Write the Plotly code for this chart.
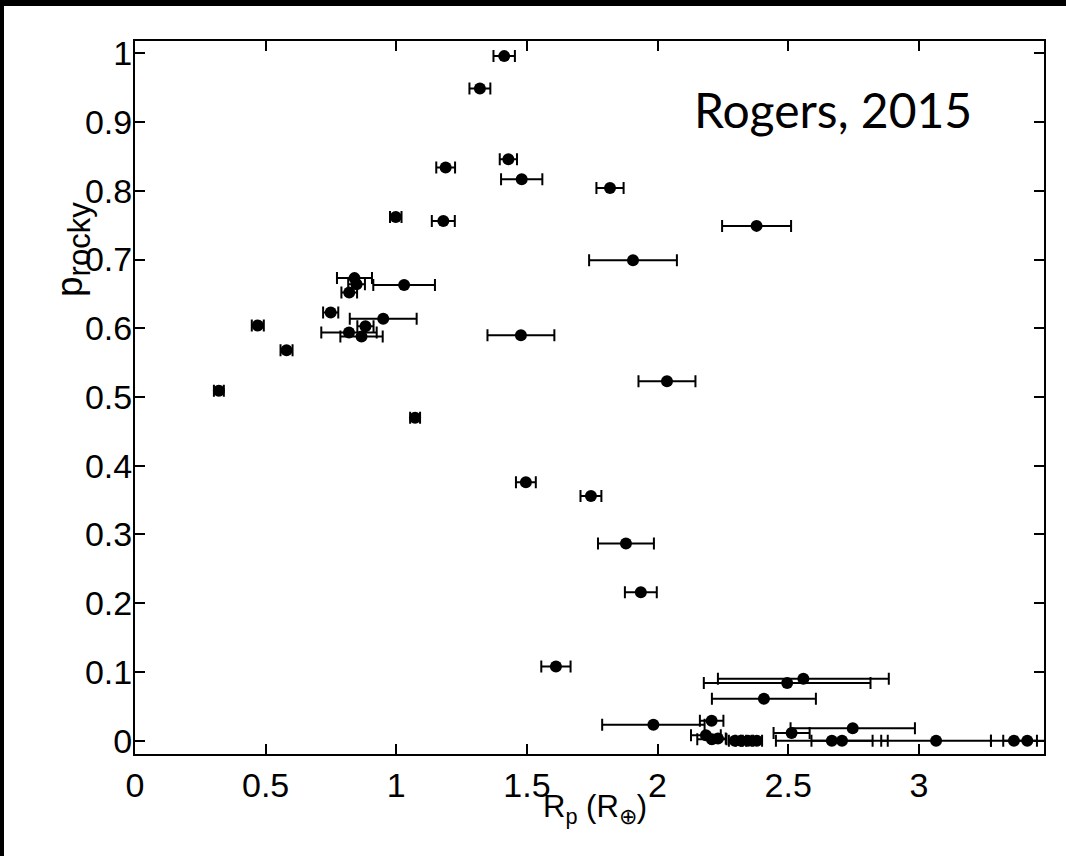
import plotly.graph_objects as go

# Planet radius (Earth radii), its uncertainty, and probability of being rocky
rp = [1.413, 1.320, 1.189, 1.429, 1.480, 1.818, 0.998, 1.180, 2.379, 1.906,
      0.840, 0.848, 1.030, 0.820, 0.749, 0.950, 0.882, 0.470, 0.819, 0.867,
      1.477, 0.580, 2.036, 0.321, 1.072, 1.496, 1.745, 1.879, 1.936, 1.611,
      2.558, 2.496, 2.407, 2.207, 1.984, 2.747, 2.513,
      2.185, 2.208, 2.231, 2.296, 2.319, 2.346, 2.380, 2.667, 2.706, 3.066,
      3.364, 3.415]
rp_err = [0.041, 0.040, 0.036, 0.033, 0.079, 0.052, 0.022, 0.044, 0.132, 0.168,
          0.067, 0.032, 0.118, 0.030, 0.029, 0.128, 0.031, 0.023, 0.106, 0.081,
          0.128, 0.023, 0.109, 0.019, 0.019, 0.038, 0.040, 0.107, 0.061, 0.056,
          0.327, 0.319, 0.199, 0.045, 0.196, 0.238, 0.069,
          0.057, 0.056, 0.030, 0.023, 0.020, 0.020, 0.020, 0.214, 0.117, 0.210,
          0.088, 0.092]
p_rocky = [0.996, 0.949, 0.834, 0.846, 0.817, 0.804, 0.762, 0.756, 0.749, 0.699,
           0.673, 0.664, 0.663, 0.652, 0.623, 0.614, 0.603, 0.604, 0.594, 0.588,
           0.590, 0.568, 0.523, 0.509, 0.470, 0.376, 0.356, 0.287, 0.216, 0.108,
           0.090, 0.084, 0.061, 0.029, 0.023, 0.018, 0.011,
           0.008, 0.002, 0.003, 0.000, 0.000, 0.000, 0.000, 0.000, 0.000, 0.000,
           0.000, 0.000]

x_ticks = [0, 0.5, 1, 1.5, 2, 2.5, 3]
x_tick_labels = ["0", "0.5", "1", "1.5", "2", "2.5", "3"]
y_ticks = [0, 0.1, 0.2, 0.3, 0.4, 0.5, 0.6, 0.7, 0.8, 0.9, 1]
y_tick_labels = ["0", "0.1", "0.2", "0.3", "0.4", "0.5", "0.6", "0.7", "0.8", "0.9", "1"]

W, H = 1066, 856
ML, MR, MT, MB = 135, 22, 41, 102
PW, PH = W - ML - MR, H - MT - MB

def px_x(p):
    return (p - ML) / PW

def px_y(p):
    return (H - MB - p) / PH

fig = go.Figure()
fig.add_trace(go.Scatter(
    x=rp, y=p_rocky, mode="markers",
    marker=dict(color="black", size=12),
    error_x=dict(type="data", array=rp_err, symmetric=True,
                 color="black", thickness=2, width=6),
    showlegend=False,
))

tick_font = dict(family="Liberation Sans, Arial, sans-serif", size=34, color="black")
axis_common = dict(showline=True, linecolor="black", linewidth=2, mirror="ticks",
                   ticks="inside", ticklen=10, tickwidth=2, tickcolor="black",
                   showgrid=False, zeroline=False, tickfont=tick_font)

fig.update_xaxes(range=[0, 3.479], tickmode="array", tickvals=x_ticks,
                 ticktext=x_tick_labels, **axis_common)
fig.update_yaxes(range=[-0.0194, 1.018], tickmode="array", tickvals=y_ticks,
                 ticktext=y_tick_labels, ticklabelstandoff=-6, **axis_common)

fig.update_layout(
    width=W, height=H, autosize=False,
    margin=dict(l=ML, r=MR, t=MT, b=MB, pad=0),
    paper_bgcolor="white", plot_bgcolor="white",
    shapes=[
        dict(type="rect", xref="paper", yref="paper", layer="above",
             x0=px_x(-5), x1=px_x(4), y0=px_y(H + 5), y1=px_y(-5),
             fillcolor="black", line=dict(width=0)),
        dict(type="rect", xref="paper", yref="paper", layer="above",
             x0=px_x(-5), x1=px_x(W + 5), y0=px_y(6), y1=px_y(-5),
             fillcolor="black", line=dict(width=0)),
    ],
    annotations=[
        dict(text="Rogers, 2015", xref="x", yref="y", x=2.132, y=0.918,
             xanchor="left", yanchor="middle", showarrow=False,
             font=dict(family="Lato, sans-serif", size=48, color="black")),
        dict(text="R<sub>p</sub> (R<sub>⊕</sub>)", xref="paper", yref="paper",
             x=px_x(595), y=px_y(809), xanchor="center", yanchor="middle", showarrow=False,
             font=dict(family="Liberation Sans, Arial, sans-serif", size=31, color="black")),
        dict(text="p<sub><span style='font-size:31px'>rocky</span></sub>",
             xref="paper", yref="paper",
             x=px_x(73), y=px_y(250), xanchor="center", yanchor="middle",
             textangle=-90, showarrow=False,
             font=dict(family="Liberation Sans, Arial, sans-serif", size=37, color="black")),
    ],
)

fig.write_html(
    "out.html",
    post_script="document.documentElement.style.background='white';"
                "document.body.style.margin='0';document.body.style.padding='0';"
                "document.body.style.background='white';"
                "document.body.style.overflow='hidden';",
)
